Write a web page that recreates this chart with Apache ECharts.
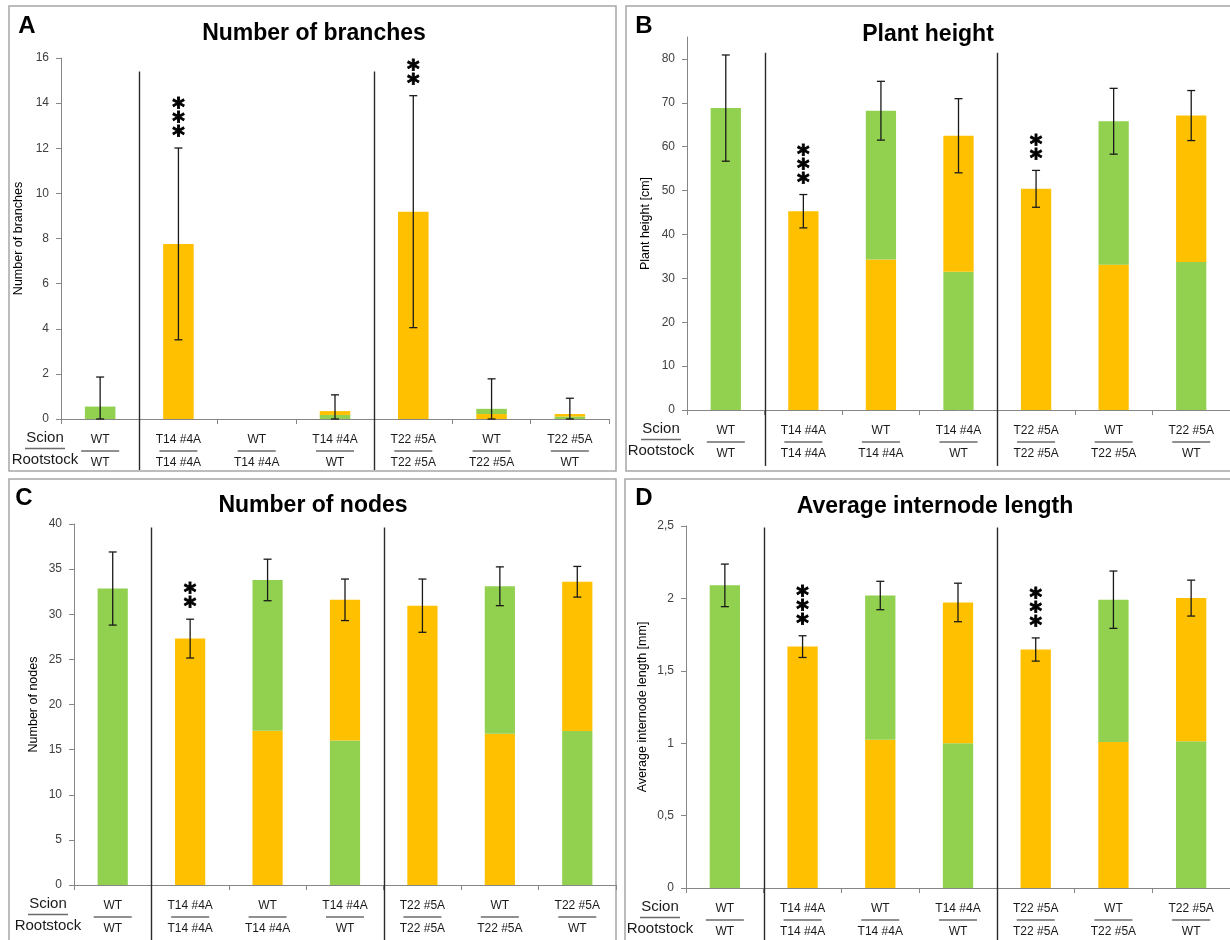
<!DOCTYPE html>
<html>
<head>
<meta charset="utf-8">
<script src="https://cdn.jsdelivr.net/npm/echarts@6/dist/echarts.min.js"></script>
<style>
  html, body { margin: 0; padding: 0; background: #fff; }
  #chart { width: 1230px; height: 940px; }
</style>
</head>
<body>
<div id="chart"></div>
<script>
// Graft combinations: scion (upper part) over rootstock (lower part)
const scion     = ['WT', 'T14 #4A', 'WT',      'T14 #4A', 'T22 #5A', 'WT',      'T22 #5A'];
const rootstock = ['WT', 'T14 #4A', 'T14 #4A', 'WT',      'T22 #5A', 'T22 #5A', 'WT'];

// A: number of branches (mean, SD, rootstock part of the bar, significance)
const branchMean  = [0.55, 7.76, 0, 0.35, 9.19, 0.45, 0.22];
const branchSD    = [1.31, 4.25, 0, 0.72, 5.14, 1.33, 0.70];
const branchRoot  = [null, null, 0, 0.18, null, 0.22, 0.11];
const branchStars = ['', '***', '', '', '**', '', ''];

// B: plant height [cm]
const heightMean  = [68.8, 45.3, 68.2, 62.5, 50.4, 65.8, 67.1];
const heightSD    = [12.1, 3.8, 6.7, 8.45, 4.2, 7.5, 5.7];
const heightRoot  = [null, null, 34.3, 31.5, null, 33.1, 33.7];
const heightStars = ['', '***', '', '', '**', '', ''];

// C: number of nodes
const nodeMean  = [32.85, 27.3, 33.8, 31.6, 30.95, 33.1, 33.6];
const nodeSD    = [4.05, 2.15, 2.3, 2.3, 2.95, 2.15, 1.7];
const nodeRoot  = [null, null, 17.1, 16.0, null, 16.75, 17.05];
const nodeStars = ['', '**', '', '', '', '', ''];

// D: average internode length [mm]
const internodeMean  = [2.09, 1.667, 2.02, 1.972, 1.647, 1.991, 2.002];
const internodeSD    = [0.147, 0.075, 0.098, 0.133, 0.08, 0.198, 0.124];
const internodeRoot  = [null, null, 1.023, 1.0, null, 1.009, 1.014];
const internodeStars = ['', '***', '', '', '***', '', ''];

// Y axis ticks
const branchTicks    = [0, 2, 4, 6, 8, 10, 12, 14, 16];
const heightTicks    = [0, 10, 20, 30, 40, 50, 60, 70, 80];
const nodeTicks      = [0, 5, 10, 15, 20, 25, 30, 35, 40];
const internodeTicks = [0, 0.5, 1, 1.5, 2, 2.5];

const GREEN = '#92D050';
const ORANGE = '#FFC000';
const FONT = '"Liberation Sans", Arial, sans-serif';
const genoColor = g => (g === 'WT' ? GREEN : ORANGE);
const categories = scion.map((s, i) => s + '/' + rootstock[i]);

const panels = [
  { letter: 'A', title: 'Number of branches', yName: 'Number of branches',
    mean: branchMean, sd: branchSD, root: branchRoot, stars: branchStars,
    ticks: branchTicks, max: 16, sepTop: 15.4, fmt: v => String(v),
    grid: { left: 61, top: 58, width: 548, height: 361 }, nameGap: 36,
    box: [9, 6, 607, 465], titlePos: [314, 34], letterPos: [27, 26], sepExtra: 51 },
  { letter: 'B', title: 'Plant height', yName: 'Plant height [cm]',
    mean: heightMean, sd: heightSD, root: heightRoot, stars: heightStars,
    ticks: heightTicks, max: 85, sepTop: 81.4, fmt: v => String(v),
    grid: { left: 687, top: 37, width: 544, height: 373 }, nameGap: 35,
    box: [626, 6, 620, 465], titlePos: [928, 35], letterPos: [644, 26], sepExtra: 56 },
  { letter: 'C', title: 'Number of nodes', yName: 'Number of nodes',
    mean: nodeMean, sd: nodeSD, root: nodeRoot, stars: nodeStars,
    ticks: nodeTicks, max: 40, sepTop: 39.6, fmt: v => String(v),
    grid: { left: 74, top: 524, width: 542, height: 361 }, nameGap: 34,
    box: [9, 479, 607, 480], titlePos: [313, 506], letterPos: [24, 498], sepExtra: 60 },
  { letter: 'D', title: 'Average internode length', yName: 'Average internode length [mm]',
    mean: internodeMean, sd: internodeSD, root: internodeRoot, stars: internodeStars,
    ticks: internodeTicks, max: 2.5, sepTop: 2.49, fmt: v => String(v).replace('.', ','),
    grid: { left: 686, top: 526, width: 544, height: 362 }, nameGap: 37,
    box: [625, 479, 620, 480], titlePos: [935, 507], letterPos: [644, 498], sepExtra: 60 }
];

const grids = [], xAxes = [], yAxes = [], series = [], graphics = [];
const centered = { align: 'center', verticalAlign: 'middle', textAlign: 'center', textVerticalAlign: 'middle' };

panels.forEach((p, k) => {
  grids.push(Object.assign({ containLabel: false }, p.grid));

  xAxes.push({
    type: 'category', gridIndex: k, data: categories,
    axisLine: { lineStyle: { color: '#868686', width: 1 } },
    axisTick: { show: true, length: 5, lineStyle: { color: '#868686' } },
    axisLabel: {
      interval: 0, margin: 14,
      formatter: (v, i) => '{t|' + scion[i] + '}\n{u| }\n{b|' + rootstock[i] + '}',
      rich: {
        t: { fontFamily: FONT, fontSize: 12, color: '#1a1a1a', lineHeight: 14, align: 'center' },
        u: { width: 38, height: 1.5, lineHeight: 8, backgroundColor: '#6b6b6b', fontSize: 1, align: 'center' },
        b: { fontFamily: FONT, fontSize: 12, color: '#1a1a1a', lineHeight: 16, align: 'center' }
      }
    }
  });

  yAxes.push({
    type: 'value', gridIndex: k, min: 0, max: p.max,
    name: p.yName, nameLocation: 'middle', nameGap: p.nameGap,
    nameTextStyle: { fontFamily: FONT, fontSize: 12.5, color: '#000' },
    axisLine: { show: true, lineStyle: { color: '#868686', width: 1 } },
    axisTick: { show: true, length: 5, lineStyle: { color: '#868686' }, customValues: p.ticks },
    axisLabel: { fontFamily: FONT, fontSize: 12, color: '#404040', margin: 12,
                 formatter: p.fmt, customValues: p.ticks },
    splitLine: { show: false }
  });

  // lower (rootstock) and upper (scion) parts of each stacked bar
  const lower = p.mean.map((m, i) => {
    const v = p.root[i] === null ? m : p.root[i];
    return { value: v, itemStyle: { color: genoColor(rootstock[i]) } };
  });
  const upper = p.mean.map((m, i) => {
    const v = p.root[i] === null ? 0 : m - p.root[i];
    return { value: v, itemStyle: { color: genoColor(scion[i]) } };
  });
  series.push({
    type: 'bar', xAxisIndex: k, yAxisIndex: k, stack: 'g' + k, barWidth: '39%',
    data: lower, animation: false, silent: true
  });
  series.push({
    type: 'bar', xAxisIndex: k, yAxisIndex: k, stack: 'g' + k, barWidth: '39%',
    data: upper, animation: false, silent: true
  });

  // error bars (mean ± SD)
  series.push({
    type: 'custom', xAxisIndex: k, yAxisIndex: k, animation: false, silent: true, z: 5,
    data: p.mean.map((m, i) => [i, Math.max(0, m - p.sd[i]), m + p.sd[i], p.sd[i]]),
    renderItem: (params, api) => {
      if (api.value(3) <= 0) return null;
      const lo = api.coord([api.value(0), api.value(1)]);
      const hi = api.coord([api.value(0), api.value(2)]);
      const x = lo[0], c = 4;
      const st = { stroke: '#1a1a1a', lineWidth: 1.3 };
      return { type: 'group', children: [
        { type: 'line', shape: { x1: x, y1: lo[1], x2: x, y2: hi[1] }, style: st },
        { type: 'line', shape: { x1: x - c, y1: hi[1], x2: x + c, y2: hi[1] }, style: st },
        { type: 'line', shape: { x1: x - c, y1: lo[1], x2: x + c, y2: lo[1] }, style: st }
      ]};
    }
  });

  // significance asterisks above the error bars
  series.push({
    type: 'custom', xAxisIndex: k, yAxisIndex: k, animation: false, silent: true, z: 6,
    data: p.mean.map((m, i) => [i, m + p.sd[i]]),
    renderItem: (params, api) => {
      const s = p.stars[params.dataIndex];
      if (!s) return null;
      const pt = api.coord([api.value(0), api.value(1)]);
      return { type: 'text', x: pt[0], y: pt[1] - 4, style: {
        text: s.split('').join('\n'), fontFamily: '"DejaVu Sans", sans-serif', fontWeight: 'bold',
        fontSize: 24, lineHeight: 14, fill: '#000', stroke: '#000', lineWidth: 0.9,
        align: 'center', verticalAlign: 'bottom', textAlign: 'center', textVerticalAlign: 'bottom' } };
    }
  });

  // vertical separators between graft groups
  series.push({
    type: 'custom', xAxisIndex: k, yAxisIndex: k, animation: false, silent: true, z: 7,
    clip: false,
    data: [[1, p.sepTop], [4, p.sepTop]],
    renderItem: (params, api) => {
      const cs = params.coordSys;
      const w = api.size([1, 0])[0];
      const top = api.coord([api.value(0), api.value(1)]);
      const x = Math.round(top[0] - w / 2) + 0.5;
      return { type: 'line', shape: { x1: x, y1: top[1], x2: x, y2: cs.y + cs.height + p.sepExtra },
               style: { stroke: '#2b2b2b', lineWidth: 1.4 } };
    }
  });

  // panel frame, title and letter
  graphics.push({ type: 'rect', shape: { x: p.box[0], y: p.box[1], width: p.box[2], height: p.box[3] },
                  style: { fill: 'none', stroke: '#a6a6a6', lineWidth: 1.5 }, silent: true });
  graphics.push({ type: 'text', x: p.titlePos[0], y: p.titlePos[1], style: Object.assign({
    text: p.title, fontFamily: FONT, fontWeight: 'bold', fontSize: 23, fill: '#000' }, centered) });
  graphics.push({ type: 'text', x: p.letterPos[0], y: p.letterPos[1], style: Object.assign({
    text: p.letter, fontFamily: FONT, fontWeight: 'bold', fontSize: 24, fill: '#000' }, centered) });

  // "Scion / Rootstock" row header
  const zeroY = p.grid.top + p.grid.height;
  const hx = p.grid.left - (k === 0 ? 16 : 26);
  graphics.push({ type: 'text', x: hx, y: zeroY + 19, style: Object.assign({
    text: 'Scion', fontFamily: FONT, fontSize: 15, fill: '#1a1a1a' }, centered) });
  graphics.push({ type: 'line', shape: { x1: hx - 20, y1: zeroY + 29.5, x2: hx + 20, y2: zeroY + 29.5 },
                  style: { stroke: '#6b6b6b', lineWidth: 1.5 } });
  graphics.push({ type: 'text', x: hx, y: zeroY + 41, style: Object.assign({
    text: 'Rootstock', fontFamily: FONT, fontSize: 15, fill: '#1a1a1a' }, centered) });
});

const chart = echarts.init(document.getElementById('chart'), null, { renderer: 'canvas' });
chart.setOption({
  animation: false,
  backgroundColor: '#fff',
  grid: grids,
  xAxis: xAxes,
  yAxis: yAxes,
  series: series,
  graphic: { elements: graphics }
});
</script>
</body>
</html>
